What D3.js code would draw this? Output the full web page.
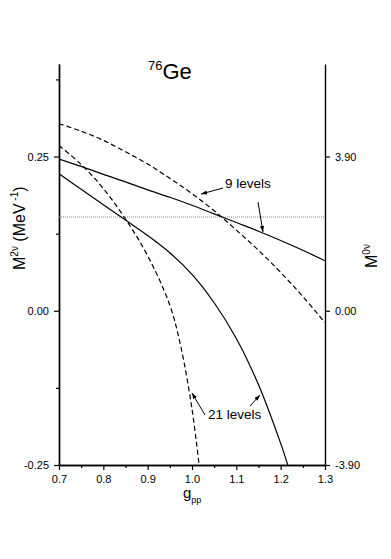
<!DOCTYPE html>
<html>
<head>
<meta charset="utf-8">
<script src="https://cdn.jsdelivr.net/npm/d3@7"></script>
<style>
  html, body { margin: 0; padding: 0; background: #fff; }
  svg { display: block; }
  text { font-family: "Liberation Sans", Arial, sans-serif; fill: #000; }
</style>
</head>
<body>
<svg id="chart" width="391" height="559"></svg>
<script>
// ---- data ----
// 9 levels, solid: M2v (left axis, MeV^-1)
const gpp9 = [0.70, 0.75, 0.80, 0.85, 0.90, 0.95, 1.00, 1.05, 1.10, 1.15, 1.20, 1.25, 1.30];
const m2v9 = [0.246, 0.234, 0.221, 0.209, 0.196, 0.184, 0.171, 0.157, 0.143, 0.129, 0.114, 0.098, 0.081];
// 9 levels, dashed: M0v (right axis)
const m0v9 = [4.73, 4.54, 4.31, 4.02, 3.71, 3.35, 2.96, 2.53, 2.04, 1.53, 0.97, 0.36, -0.30];
// 21 levels, solid: M2v (left axis)
const gpp21s = [0.70, 0.75, 0.80, 0.85, 0.90, 0.95, 1.00, 1.05, 1.10, 1.15, 1.20, 1.216];
const m2v21 = [0.222, 0.197, 0.172, 0.147, 0.122, 0.094, 0.059, 0.013, -0.045, -0.120, -0.215, -0.25];
// 21 levels, dashed: M0v (right axis)
const gpp21d = [0.70, 0.75, 0.80, 0.85, 0.90, 0.95, 0.975, 1.00, 1.016];
const m0v21 = [4.18, 3.70, 3.09, 2.32, 1.39, 0.14, -0.92, -2.48, -3.90];
// horizontal reference value of M2v (dotted)
const m2vRef = 0.152;

// ticks
const xMajor = [0.7, 0.8, 0.9, 1.0, 1.1, 1.2, 1.3];
const xMinor = [0.75, 0.85, 0.95, 1.05, 1.15, 1.25];
const yLeftMajor = [-0.25, 0.00, 0.25];
const yLeftMinor = [-0.125, 0.125, 0.375];
const yRightMajor = [-3.90, 0.00, 3.90];

// ---- layout ----
const W = 391, H = 559;
const m = { left: 59, right: 66, top: 64, bottom: 94 };
const svg = d3.select("#chart");

const x = d3.scaleLinear().domain([0.7, 1.3]).range([m.left, W - m.right]);
const yL = d3.scaleLinear().domain([-0.25, 0.40]).range([H - m.bottom, m.top]);
const yR = d3.scaleLinear().domain([-3.90, 6.24]).range([H - m.bottom, m.top]);

const fmt2 = d => d.toFixed(2);
const fmt1 = d => d.toFixed(1);

function styleAxis(g) {
  g.select(".domain").attr("stroke", "#000").attr("stroke-width", 1.4);
  g.selectAll(".tick line").attr("stroke", "#000").attr("stroke-width", 1.2);
  g.selectAll(".tick text").style("font-family", "'Liberation Sans', Arial, sans-serif")
    .style("font-size", "11px").attr("fill", "#000");
}

// left axis
svg.append("g").attr("transform", `translate(${m.left},0)`)
  .call(d3.axisLeft(yL).tickValues(yLeftMajor).tickFormat(fmt2).tickSize(5).tickPadding(5).tickSizeOuter(0))
  .call(styleAxis);
svg.append("g").attr("transform", `translate(${m.left},0)`)
  .call(d3.axisLeft(yL).tickValues(yLeftMinor).tickFormat("").tickSize(3).tickSizeOuter(0))
  .call(styleAxis);
// right axis
svg.append("g").attr("transform", `translate(${W - m.right},0)`)
  .call(d3.axisRight(yR).tickValues(yRightMajor).tickFormat(fmt2).tickSize(5).tickPadding(5).tickSizeOuter(0))
  .call(styleAxis);
// bottom axis
svg.append("g").attr("transform", `translate(0,${H - m.bottom})`)
  .call(d3.axisBottom(x).tickValues(xMajor).tickFormat(fmt1).tickSize(5).tickPadding(5).tickSizeOuter(0))
  .call(styleAxis);
svg.append("g").attr("transform", `translate(0,${H - m.bottom})`)
  .call(d3.axisBottom(x).tickValues(xMinor).tickFormat("").tickSize(3).tickSizeOuter(0))
  .call(styleAxis);

// dotted reference line
svg.append("line")
  .attr("x1", x(0.7)).attr("x2", x(1.3))
  .attr("y1", yL(m2vRef)).attr("y2", yL(m2vRef))
  .attr("stroke", "#888").attr("stroke-width", 1).attr("stroke-dasharray", "1,1");

// curves
svg.append("clipPath").attr("id", "clip").append("rect")
  .attr("x", m.left).attr("y", m.top).attr("width", W - m.left - m.right).attr("height", H - m.top - m.bottom);
const plot = svg.append("g").attr("clip-path", "url(#clip)");

function drawLine(xs, ys, yScale, dashed) {
  const line = d3.line().x(d => x(d[0])).y(d => yScale(d[1])).curve(d3.curveCatmullRom.alpha(0.5));
  plot.append("path")
    .attr("d", line(xs.map((v, i) => [v, ys[i]])))
    .attr("fill", "none").attr("stroke", "#000").attr("stroke-width", 1.2)
    .attr("stroke-dasharray", dashed ? "5,3" : null);
}
drawLine(gpp9, m2v9, yL, false);
drawLine(gpp9, m0v9, yR, true);
drawLine(gpp21s, m2v21, yL, false);
drawLine(gpp21d, m0v21, yR, true);

// arrow marker
svg.append("defs").append("marker")
  .attr("id", "arr").attr("viewBox", "0 0 10 10").attr("refX", 10).attr("refY", 5)
  .attr("markerWidth", 6).attr("markerHeight", 6).attr("markerUnits", "userSpaceOnUse")
  .attr("orient", "auto")
  .append("path").attr("d", "M0,1.5 L10,5 L0,8.5 Z").attr("fill", "#000");

function arrow(x1, y1, x2, y2) {
  svg.append("line").attr("x1", x1).attr("y1", y1).attr("x2", x2).attr("y2", y2)
    .attr("stroke", "#000").attr("stroke-width", 1).attr("marker-end", "url(#arr)");
}

// annotations
svg.append("text").attr("x", 225).attr("y", 188).style("font-size", "13.5px").text("9 levels");
arrow(223, 188, 201, 194);
arrow(258, 202, 263, 232);

svg.append("text").attr("x", 208).attr("y", 419).style("font-size", "13.5px").text("21 levels");
arrow(205, 415, 192, 393);
arrow(250, 406, 260, 395);

// title
const t = svg.append("text").attr("x", 148).attr("y", 79);
t.append("tspan").style("font-size", "13px").attr("dy", -9).text("76");
t.append("tspan").style("font-size", "22px").attr("dy", 9).text("Ge");

// x label
const xl = svg.append("text").attr("x", 183).attr("y", 498);
xl.append("tspan").style("font-size", "15px").text("g");
xl.append("tspan").style("font-size", "9px").attr("dy", 5).text("pp");

// left y label
const yl = svg.append("text").attr("transform", "translate(25,270) rotate(-90)");
yl.append("tspan").style("font-size", "16px").text("M");
yl.append("tspan").style("font-size", "10px").attr("dy", -7).text("2ν");
yl.append("tspan").style("font-size", "16px").attr("dy", 7).text(" (MeV");
yl.append("tspan").style("font-size", "10px").attr("dy", -7).text(" -1");
yl.append("tspan").style("font-size", "16px").attr("dy", 7).text(")");

// right y label
const yr = svg.append("text").attr("transform", "translate(377,268) rotate(-90)");
yr.append("tspan").style("font-size", "16px").text("M");
yr.append("tspan").style("font-size", "10px").attr("dy", -7).text("0ν");
</script>
</body>
</html>
